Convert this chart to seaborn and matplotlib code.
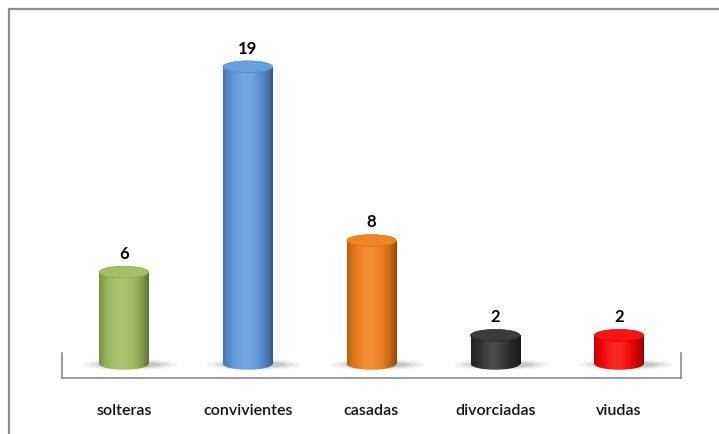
import numpy as np
import matplotlib
matplotlib.use("Agg")
import matplotlib.pyplot as plt
from matplotlib.patches import Ellipse, Rectangle
import seaborn as sns

# data
categorias = ['solteras', 'convivientes', 'casadas', 'divorciadas', 'viudas']
valores = [6, 19, 8, 2, 2]
colores = ['#9BBB59', '#5A96DC', '#EE7A12', '#2A2A2A', '#F80000']

sns.set_style('white')
plt.rcParams['font.family'] = ['Lato', 'DejaVu Sans']

fig = plt.figure(figsize=(7.19, 4.35), dpi=100)
ax = fig.add_axes([62 / 719, 56 / 435, 619 / 719, 327 / 435])

sns.barplot(x=categorias, y=valores, hue=categorias, palette=colores,
            legend=False, width=0.4, ax=ax, saturation=1)

ax.set_xlim(-0.5, 4.5)
ax.set_ylim(-0.7, 20)


def shade(col, n=60):
    rgb = np.array(matplotlib.colors.to_rgb(col))
    t = np.linspace(0, 1, n)
    hl = np.exp(-((t - 0.45) / 0.25) ** 2)   # highlight
    edge = np.clip(np.abs(t - 0.45) / 0.55, 0, 1) ** 3  # darker at the sides
    out = rgb[None, :] * (1 - 0.4 * edge[:, None])
    out = out + (1 - out) * 0.15 * hl[:, None]
    return np.clip(out, 0, 1)[None, :, :]


ell_h = 0.75
for patch, col, v in zip(ax.patches, colores, valores):
    x0, w = patch.get_x(), patch.get_width()
    xc = x0 + w / 2
    patch.set_alpha(0)
    # shadow under the cylinder
    for k, a in enumerate([0.07, 0.1, 0.16]):
        sh = Ellipse((xc + 0.05, 0.15), w * (1.9 - 0.3 * k), ell_h * (0.9 - 0.2 * k),
                     facecolor='#444444', edgecolor='none', alpha=a, zorder=1)
        ax.add_patch(sh)
    grad = shade(col)
    body = Rectangle((x0, 0.2), w, v - 0.2, facecolor='none', edgecolor='none')
    ax.add_patch(body)
    im = ax.imshow(grad, extent=(x0, x0 + w, 0.2, v), aspect='auto', zorder=2)
    im.set_clip_path(body)
    bottom = Ellipse((xc, 0.2), w, ell_h, facecolor='none', edgecolor='none')
    ax.add_patch(bottom)
    im2 = ax.imshow(grad, extent=(x0, x0 + w, 0.2 - ell_h / 2, 0.2), aspect='auto', zorder=2)
    im2.set_clip_path(bottom)
    rgb = np.array(matplotlib.colors.to_rgb(col))
    top_col = rgb + (1 - rgb) * 0.08
    top = Ellipse((xc, v), w, ell_h, facecolor=top_col, edgecolor=rgb * 0.9,
                  lw=0.5, zorder=3)
    ax.add_patch(top)
    ax.annotate(str(v), (xc, v), xytext=(0, 8), textcoords='offset points',
                ha='center', va='bottom', fontsize=12, fontweight='bold', color='black')

# axis styling
for s in ['top', 'right']:
    ax.spines[s].set_visible(False)
for s in ['left', 'right', 'bottom']:
    ax.spines[s].set_color('#8c8c8c')
    ax.spines[s].set_linewidth(1.2)
ax.spines['right'].set_visible(True)
ax.spines['left'].set_bounds(-0.7, 0.9)
ax.spines['right'].set_bounds(-0.7, 0.9)
ax.set_yticks([])
ax.set_xticks(range(len(categorias)))
ax.set_xticklabels(categorias, fontsize=11.5, color='#111111', fontweight='semibold')
ax.set_xticks(np.arange(-0.5, 5, 1), minor=True)
ax.tick_params(axis='x', which='major', length=0, pad=18)
ax.tick_params(axis='x', which='minor', length=7, width=1.2, color='#8c8c8c', direction='out')
ax.set_xlabel('')
ax.set_ylabel('')
ax.patch.set_alpha(0)

# outer chart frame (cropped screenshot)
fig.add_artist(Rectangle((9 / 719, -0.1), 2, 1.1 - 10 / 435, transform=fig.transFigure,
                         fill=False, edgecolor='#8c8c8c', lw=1.6))

fig.savefig('out.png', dpi=100)
